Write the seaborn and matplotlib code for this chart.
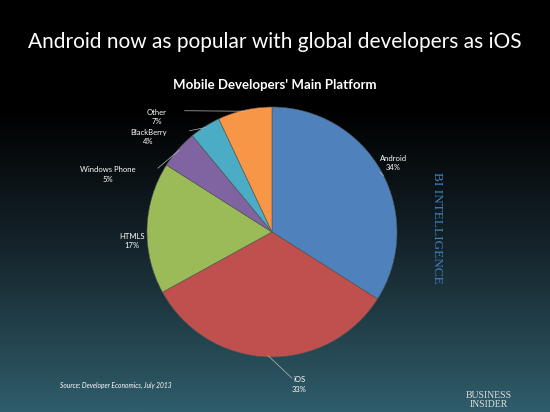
import numpy as np
import matplotlib
matplotlib.use("Agg")
import matplotlib.pyplot as plt
import seaborn as sns
from matplotlib.colors import LinearSegmentedColormap

sns.set_style("white")
plt.rcParams['font.family'] = ['Lato', 'DejaVu Sans']

platforms = ["Android", "iOS", "HTML5", "Windows Phone", "BlackBerry", "Other"]
label_names = ["Android", "iOS", "HTMLS", "Windows Phone", "BlackBerry", "Other"]
shares = [34, 33, 17, 5, 4, 7]
colors = ["#4f81bd", "#c0504d", "#9bbb59", "#8064a2", "#4bacc6", "#f79646"]

W, H = 550, 412
fig = plt.figure(figsize=(W / 100, H / 100), dpi=100)

# background gradient
bg = fig.add_axes([0, 0, 1, 1])
cmap = LinearSegmentedColormap.from_list(
    "bg", [(0, "#000000"), (0.27, "#000000"), (0.6, "#15242b"), (1.0, "#2f5d6b")])
grad = np.linspace(0, 1, 256).reshape(-1, 1)
bg.imshow(grad, aspect="auto", cmap=cmap, extent=[0, 1, 0, 1], origin="upper")
bg.set_axis_off()

# pie
cx, cy, r = 272, 232, 125
ax = fig.add_axes([(cx - r) / W, (H - cy - r) / H, 2 * r / W, 2 * r / H])
wedges, _ = ax.pie(shares, colors=colors, startangle=90, counterclock=False,
                   wedgeprops=dict(linewidth=0.4, edgecolor="#555555"))
ax.set_xlim(-1, 1)
ax.set_ylim(-1, 1)
ax.set_axis_off()

label_pos = {
    "Android": (0.97, 0.55),
    "iOS": (0.22, -1.22),
    "HTML5": (-1.12, -0.07),
    "Windows Phone": (-1.31, 0.46),
    "BlackBerry": (-0.99, 0.76),
    "Other": (-0.92, 0.92),
}
for w, name, lab, s in zip(wedges, platforms, label_names, shares):
    mid = np.deg2rad((w.theta1 + w.theta2) / 2)
    px, py = np.cos(mid), np.sin(mid)
    tx, ty = label_pos[name]
    ax.text(tx, ty, f"{lab}\n{s}%", color="white", fontsize=5.5, ha="center",
            va="center", linespacing=1.35, clip_on=False)
    if name == "HTML5":
        continue
    if name == "Android":
        start = (tx - 0.08, ty - 0.1)
    elif name == "iOS":
        start = (tx - 0.06, ty + 0.05)
    else:
        start = (tx + 0.11 + 0.022 * len(lab), ty + 0.05)
    ax.plot([start[0], px * 0.99], [start[1], py * 0.99], color="#bbbbbb",
            lw=0.5, clip_on=False)

fig.text(0.5, 1 - 42 / H, "Android now as popular with global developers as iOS",
         color="white", fontsize=15, ha="center", va="center")
fig.text(0.5, 1 - 85 / H, "Mobile Developers' Main Platform",
         color="white", fontsize=9.5, fontweight="bold", ha="center", va="center")
fig.text(437 / W, 1 - 228 / H, "BI INTELLIGENCE", color="#3f82bf", fontsize=9.5,
         family="Liberation Serif", rotation=-90, ha="center", va="center")
fig.text(60 / W, 1 - 385 / H, "Source: Developer Economics, July 2013",
         color="white", fontsize=4.8, style="italic", ha="left", va="center")
fig.text(489 / W, 1 - 400 / H, "BUSINESS\nINSIDER", color="#dddddd",
         fontsize=7, family="Liberation Serif", ha="center", va="center",
         linespacing=1.0)

fig.savefig("out.png", dpi=100)
